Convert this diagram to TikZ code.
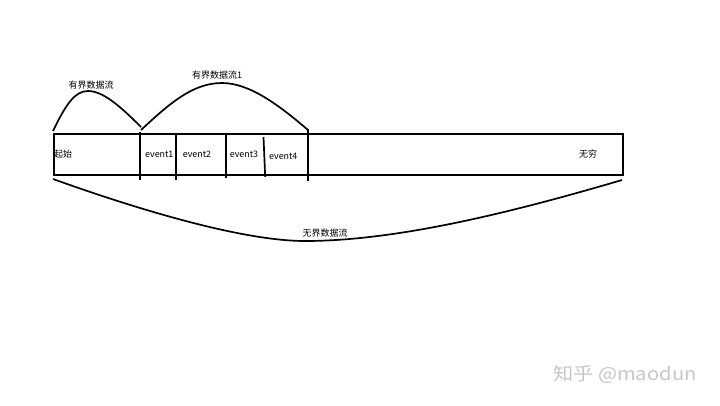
\documentclass[tikz,border=0pt]{standalone}
\usepackage{fontspec}
\setmainfont{Noto Sans CJK SC}
\begin{document}
\begin{tikzpicture}[x=1pt,y=-1pt,
  thick line/.style={line width=1.7pt},
  lbl/.style={inner sep=0pt, font=\fontsize{8.9}{10}\selectfont},
  cjk/.style={inner sep=0pt, font=\fontsize{9}{10}\selectfont}]
\useasboundingbox[fill=white] (0,0) rectangle (720,405);
% main bar
\node[draw, thick line, minimum width=569pt, minimum height=41pt, inner sep=0pt, anchor=north west] (bar) at (53,133) {};
% dividers
\coordinate (d1t) at (140,131.5); \coordinate (d1b) at (140,180);
\coordinate (d2t) at (175.7,135); \coordinate (d2b) at (175.7,180);
\coordinate (d3t) at (225.7,133); \coordinate (d3b) at (225.7,178);
\coordinate (d4t) at (263.5,137); \coordinate (d4b) at (265.2,177);
\coordinate (d5t) at (308.3,129); \coordinate (d5b) at (308.3,180.5);
\draw[thick line] (d1t) -- (d1b);
\draw[thick line] (d2t) -- (d2b);
\draw[thick line] (d3t) -- (d3b);
\draw[thick line] (d4t) -- (d4b);
\draw[thick line] (d5t) -- (d5b);
% texts in bar
\node[cjk] (start) at (63,154) {起始};
\node[cjk] (inf) at (588,154) {无穷};
\node[lbl] (e1) at (159.3,154.5) {event1};
\node[lbl] (e2) at (197,154.5) {event2};
\node[lbl] (e3) at (244,154.5) {event3};
\node[lbl] (e4) at (283.3,156.5) {event4};
% arcs
\coordinate (a1s) at (53,131);
\coordinate (a1p) at (88,91);
\coordinate (a1e) at (141,127);
\draw[thick line, line join=round] (a1s) .. controls (66,104) and (75,91) .. (a1p) .. controls (103,91) and (120,106) .. (a1e);
\coordinate (a2s) at (141,130);
\coordinate (a2p) at (222,83);
\coordinate (a2e) at (308,130);
\draw[thick line, line join=round] (a2s) .. controls (170,103) and (193,83) .. (a2p) .. controls (250,83) and (280,106) .. (a2e);
\coordinate (bs) at (53,179);
\coordinate (bp) at (305,241);
\coordinate (be) at (622,180);
\draw[thick line] (bs) .. controls (145,212) and (245,241) .. (bp) .. controls (400,241) and (520,210) .. (be);
% labels
\node[cjk] (l1) at (91,85) {有界数据流};
\node[cjk] (l2) at (217,75.5) {有界数据流1};
\node[cjk] (l3) at (325,233.5) {无界数据流};
% watermark
\node[inner sep=0pt, text=black!22, xscale=1.12, font=\fontsize{18}{20}\selectfont] (wm) at (625,374) {知乎 @maodun};
\end{tikzpicture}
\end{document}
